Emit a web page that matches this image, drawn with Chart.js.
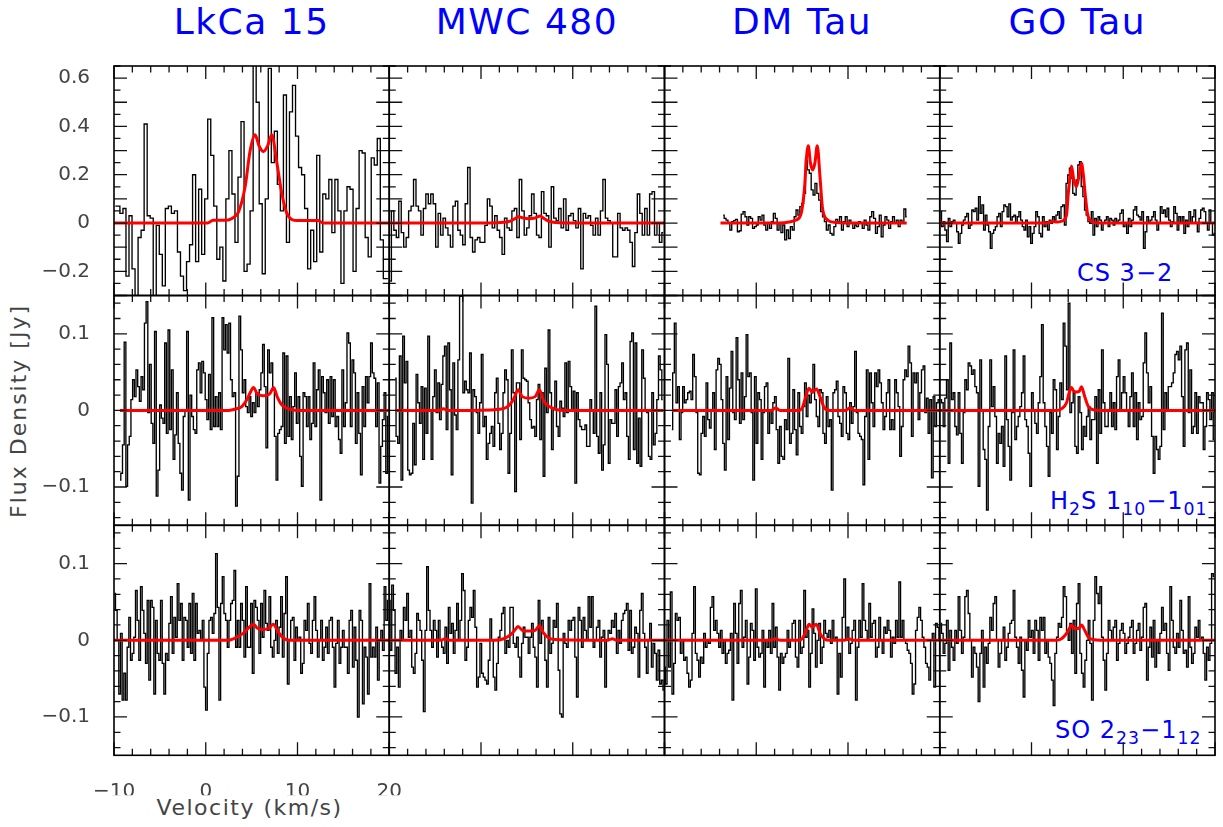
<!DOCTYPE html>
<html>
<head>
<meta charset="utf-8">
<title>CS, H2S and SO spectra</title>
<script src="https://cdn.jsdelivr.net/npm/chart.js@4.4.1/dist/chart.umd.min.js"></script>
<style>
  html, body { margin: 0; padding: 0; background: #fff; }
  #stage { position: relative; width: 1223px; height: 827px; overflow: hidden; font-family: "DejaVu Sans", sans-serif; }
  #stage canvas { position: absolute; left: 0; top: 0; }
  .source { position: absolute; top: 4px; text-align: center; color: #0000ff; font-size: 36px; line-height: 1; letter-spacing: 1.5px; white-space: nowrap; }
  .line-label { position: absolute; color: #0000ff; font-size: 24px; line-height: 1; white-space: nowrap; letter-spacing: 1px; }
  .line-label sub { font-size: 0.72em; vertical-align: -0.35em; line-height: 0; }
  .axis-title { position: absolute; color: #444; font-size: 22px; line-height: 1; white-space: nowrap; text-align: center; }
</style>
</head>
<body>
<div id="stage"></div>
<script>
// sources (columns) and transitions (rows)
const sources = ['LkCa 15', 'MWC 480', 'DM Tau', 'GO Tau'];
const lineLabels = ['CS 3\u22122', 'H<sub>2</sub>S 1<sub>10</sub>\u22121<sub>01</sub>', 'SO 2<sub>23</sub>\u22121<sub>12</sub>'];
const velocityRange = [-10, 20];
const fluxRanges = [[-0.3, 0.65], [-0.15, 0.15], [-0.15, 0.15]];
const xTickValues = [-10, 0, 10, 20];
const yTickValues = [[-0.2, 0, 0.2, 0.4, 0.6], [-0.1, 0, 0.1], [-0.1, 0, 0.1]];

// ---- CS 3-2 spectra (Jy) ----
const csLkcaVel = [-9.85, 19.85];
const csLkca = [0.07,0.07,0.04,0.06,-0.22,0.03,-0.19,-0.35,-0.06,-0.03,0.41,0.03,0.02,-0.35,-0.01,-0.13,-0.26,0.06,0.07,0.04,
  0.05,-0.12,-0.22,-0.28,-0.16,-0.09,0.2,-0.16,0.14,-0.13,0.1,0.43,0.28,0.07,-0.15,-0.1,-0.24,0.1,0.3,0.12,
  -0.08,0.19,0.42,-0.2,-0.17,0.05,0.7,0.5,0.08,-0.21,0.1,0.64,0.25,0.38,0.16,0.05,0.53,-0.08,0.46,0.57,
  0.36,0.23,0.2,0.06,-0.19,-0.03,-0.16,0.28,-0.12,0.12,0.1,0.18,-0.04,0.18,0.05,-0.25,0.05,0.15,0.14,-0.2,
  0.06,0.3,0.29,-0.06,-0.14,0.27,0.24,0.35,-0.07,-0.23,-0.23];
const csMwcVel = [-9.9, 19.85];
const csMwc = [-0.24,0.05,-0.03,-0.06,0.09,-0.04,-0.1,-0.06,0.05,0.07,0.18,0.07,0.05,-0.05,0.06,0.12,0.08,0.12,0.08,-0.1,
  0.04,-0.05,0.02,-0.02,-0.05,-0.1,0.07,0.09,-0.03,-0.05,-0.09,0.08,0.23,-0.06,-0.12,-0.07,-0.06,-0.08,-0.08,-0.01,
  0.1,0.07,-0.02,0.03,-0.03,-0.06,-0.13,0.02,-0.02,-0.03,0.05,0.06,-0.06,0.18,0.05,-0.05,-0.02,0.03,0.12,0.04,
  -0.05,-0.06,0.13,0.04,0.03,-0.1,0.15,0.02,0.01,0.06,-0.02,0.1,-0.03,0.03,0.04,0.01,-0.02,0.06,-0.19,0.04,
  0.02,0.03,-0.01,-0.05,0.02,-0.05,0.05,0.18,0.02,0.01,0.0,-0.14,-0.14,0.04,-0.02,-0.03,-0.02,-0.03,-0.08,-0.18,
  -0.04,0.12,0.04,-0.05,0.06,-0.05,0.12,0.13,-0.05,0.0,-0.08,-0.04];
const csDmVel = [-3.6, 16.4];
const csDm = [0.033,0.019,0.012,-0.001,-0.029,0.006,0.01,0.015,-0.036,-0.032,0.037,0.047,0.026,-0.008,0.026,0.019,-0.022,-0.015,-0.008,0.026,
  0.012,0.033,-0.008,-0.029,-0.001,-0.022,0.006,0.04,0.019,-0.029,-0.001,-0.04,-0.008,-0.07,-0.029,-0.064,-0.015,-0.029,0.026,0.054,
  0.033,0.068,0.081,0.123,0.26,0.22,0.206,0.137,0.116,0.164,0.123,0.095,0.047,0.026,0.006,-0.029,-0.008,-0.043,-0.05,-0.015,
  0.015,0.006,0.026,-0.029,0.006,0.026,-0.015,0.012,-0.001,-0.022,-0.008,-0.015,0.006,-0.001,-0.022,0.012,-0.008,-0.029,0.026,0.047,
  0.019,-0.043,-0.015,0.033,-0.057,-0.008,0.026,0.012,-0.022,0.006,0.026,-0.001,0.012,-0.015,0.012,-0.001,0.058,0.026];
const csGoVel = [-9.9, 20];
const csGo = [0.047,-0.015,0.006,-0.029,-0.077,0.019,-0.015,0.006,0.012,-0.001,-0.036,-0.084,-0.043,-0.008,0.012,0.026,0.04,-0.022,-0.008,0.054,
  0.047,0.061,0.012,0.109,0.04,0.075,-0.029,0.033,-0.008,-0.036,-0.105,-0.043,-0.029,-0.015,0.026,0.04,-0.015,0.047,0.075,0.068,
  0.026,0.079,0.012,0.026,0.033,-0.001,0.026,0.047,0.012,-0.015,-0.029,0.012,-0.057,-0.015,-0.084,-0.043,-0.015,0.047,0.026,-0.043,
  -0.057,0.026,-0.015,0.006,-0.029,0.012,-0.001,0.026,0.012,0.033,0.047,0.019,0.068,0.075,-0.008,0.164,0.199,0.227,0.185,0.123,
  0.116,0.178,0.24,0.254,0.151,0.109,0.054,0.033,0.006,-0.001,0.047,-0.05,0.019,-0.015,0.026,0.012,-0.029,-0.001,0.012,0.026,
  -0.015,0.019,0.012,-0.008,0.019,-0.001,0.012,0.04,0.054,-0.015,-0.001,-0.043,0.019,-0.015,0.012,0.054,0.068,0.033,0.026,0.012,
  0.047,-0.105,-0.036,0.026,-0.001,0.012,0.026,0.047,0.012,-0.029,-0.001,0.068,0.04,0.054,0.026,0.061,0.012,-0.015,0.006,0.068,
  0.04,-0.029,0.026,-0.001,0.026,-0.043,0.012,-0.015,0.047,-0.001,0.026,0.054,-0.001,-0.036,0.019,0.054,0.061,0.047,-0.001,-0.029,
  0.054,-0.001,-0.05,-0.043];

// ---- H2S 1(10)-1(01) spectra (Jy) ----
const h2sLkcaVel = [-9.35, 19.9];
const h2sLkca = [-0.091,-0.082,-0.045,0.089,-0.099,-0.045,-0.034,0.014,0.04,0.018,0.053,0.031,0.012,0.044,0.027,0.114,0.142,-0.003,0.06,-0.017,
  -0.043,0.103,-0.112,-0.078,0.007,-0.01,-0.017,0.088,-0.03,0.105,-0.025,0.053,-0.064,-0.032,0.023,-0.043,-0.082,-0.104,-0.008,0.001,
  0.103,-0.117,0.02,-0.008,-0.025,-0.03,0.053,0.062,0.023,0.064,0.049,0.014,-0.012,0.047,-0.025,0.121,-0.021,0.018,-0.021,0.023,
  -0.025,0.121,0.079,0.112,0.075,0.114,0.04,0.018,0.023,-0.125,-0.086,0.123,0.079,0.023,0.04,0.005,-0.003,0.018,-0.008,0.01,
  -0.003,0.023,0.005,0.027,0.049,0.086,0.031,-0.049,0.079,0.049,0.062,0.027,-0.034,-0.091,-0.03,-0.025,-0.021,0.075,-0.043,0.071,
  -0.034,0.018,-0.038,0.005,0.049,-0.017,0.018,-0.06,-0.099,0.023,0.018,-0.021,0.018,-0.038,-0.017,0.062,-0.021,0.027,0.053,-0.117,
  0.044,0.023,-0.003,0.04,-0.017,0.044,-0.008,0.04,-0.021,-0.008,-0.038,-0.056,0.053,-0.021,0.01,0.101,0.088,-0.021,0.066,0.049,
  -0.043,0.023,-0.03,-0.084,0.031,-0.021,0.044,0.01,0.044,0.088,0.049,0.042,-0.021,0.036,-0.095,-0.047,-0.012,0.023,-0.082,-0.008];
const h2sMwcVel = [-9.35, 19.8];
const h2sMwc = [0.042,-0.034,-0.043,0.071,-0.091,0.097,0.036,0.064,-0.078,-0.084,-0.082,-0.017,-0.071,0.047,0.01,-0.017,0.031,-0.064,0.029,-0.03,
  0.097,-0.001,-0.064,0.018,0.053,-0.003,0.036,-0.012,0.034,0.071,0.084,-0.025,0.088,0.027,-0.084,0.062,-0.006,-0.025,0.066,0.149,
  0.16,0.023,0.038,0.027,0.023,0.075,-0.121,0.027,0.018,-0.003,-0.03,0.01,0.073,-0.021,-0.008,-0.064,-0.043,-0.03,-0.021,-0.047,
  0.023,0.042,-0.017,-0.051,-0.03,0.023,0.053,0.04,-0.082,-0.03,0.079,0.023,-0.106,0.036,0.036,-0.038,0.079,0.042,0.04,0.038,
  0.01,-0.012,-0.023,-0.021,-0.034,0.014,0.034,-0.038,0.023,-0.086,0.055,-0.003,0.105,0.023,-0.051,0.001,0.038,-0.021,-0.034,0.012,
  0.003,-0.008,0.062,-0.003,0.064,0.031,-0.001,0.025,-0.095,0.023,-0.012,-0.021,-0.025,-0.025,-0.019,-0.047,-0.047,0.014,-0.001,-0.03,
  0.136,-0.034,-0.056,0.023,-0.078,-0.045,0.099,0.06,-0.069,-0.012,-0.017,-0.017,0.027,-0.034,0.031,0.036,0.062,0.014,0.023,-0.034,
  -0.064,0.09,0.101,-0.051,0.088,-0.069,-0.01,-0.073,0.079,0.042,0.001,-0.003,-0.06,-0.064,0.023,-0.045,-0.03,0.014,0.071,0.053,0.014];
const h2sDmVel = [-9.2, 20.1];
const h2sDm = [-0.025,0.049,0.114,0.01,0.031,-0.038,-0.003,0.031,0.01,0.014,0.023,0.025,0.014,0.073,0.044,-0.003,-0.082,-0.084,-0.03,-0.008,
  -0.034,0.036,-0.012,-0.023,0.001,0.023,-0.051,0.053,0.068,0.06,0.014,-0.043,-0.078,0.044,-0.038,0.029,0.077,-0.003,-0.012,0.095,
  0.04,-0.017,0.049,-0.012,0.018,0.099,0.044,0.049,-0.003,-0.091,0.044,-0.043,0.023,0.014,-0.064,-0.003,0.031,0.036,-0.03,0.001,
  -0.017,0.01,0.018,-0.025,-0.069,-0.021,-0.06,-0.064,-0.012,-0.025,0.068,-0.043,-0.03,0.027,-0.025,-0.058,0.023,-0.021,-0.03,0.005,
  0.036,-0.008,0.02,0.01,0.023,0.06,0.014,-0.008,-0.021,0.027,0.023,-0.03,-0.043,0.018,-0.021,-0.012,-0.104,0.023,0.027,0.038,
  -0.008,-0.017,-0.034,0.031,0.023,-0.03,-0.038,0.01,-0.017,0.005,0.077,-0.003,-0.03,-0.034,-0.038,-0.097,-0.008,0.053,-0.064,0.049,
  0.01,-0.021,0.049,0.031,0.053,0.036,0.01,-0.025,-0.008,0.023,0.04,-0.025,-0.012,-0.025,0.04,0.023,0.005,-0.06,-0.021,0.04,
  0.053,0.044,0.084,0.062,-0.034,0.049,0.036,0.049,-0.012,0.023,0.053,0.058,-0.003,0.016,-0.03,0.014,-0.088,0.018,-0.021,0.01,0.014,-0.021];
const h2sGoVel = [-9.9, 19.9];
const h2sGo = [0.014,0.01,-0.021,0.016,0.04,-0.069,0.088,0.014,0.023,-0.021,-0.032,0.023,-0.03,-0.069,-0.003,0.04,0.027,0.062,0.058,0.047,
  0.053,0.031,0.023,-0.099,0.066,0.001,-0.051,-0.064,-0.13,-0.021,0.066,0.005,0.031,-0.008,-0.069,-0.03,-0.043,-0.021,-0.073,0.071,
  -0.012,-0.047,-0.091,-0.003,0.079,-0.038,-0.021,-0.008,0.005,0.023,0.071,-0.012,-0.021,-0.056,-0.099,0.023,0.001,-0.017,-0.03,0.01,
  0.044,0.112,0.01,-0.021,-0.047,-0.086,-0.003,-0.03,0.04,0.027,-0.051,-0.008,0.036,0.014,0.114,0.084,0.027,0.14,-0.003,0.01,
  0.023,-0.047,-0.056,0.018,-0.003,-0.051,-0.021,-0.034,-0.008,0.005,-0.038,-0.012,-0.012,0.018,-0.069,0.027,-0.03,0.079,0.01,-0.021,
  -0.021,0.001,0.023,-0.021,0.01,-0.025,0.044,0.066,0.001,0.023,0.044,0.023,0.001,-0.021,0.018,0.049,-0.021,0.023,-0.038,0.01,
  -0.012,-0.008,0.062,0.101,0.049,0.01,0.031,-0.034,-0.082,-0.034,-0.051,-0.064,-0.047,0.127,-0.025,0.023,0.001,0.031,0.031,0.036,
  0.049,0.073,0.077,0.066,0.084,0.018,-0.047,0.079,0.088,-0.003,0.053,-0.03,-0.021,0.023,-0.03,0.018,0.01,0.01,-0.051,-0.021,
  0.023,0.014,-0.012,0.023,-0.038];

// ---- SO 2(23)-1(12) spectra (Jy) ----
const soLkcaVel = [-9.93, 19.9];
const soLkca = [0.061,0.039,0,-0.07,0.009,-0.078,-0.043,-0.078,-0.009,0.03,-0.026,-0.017,0.004,0.065,0.026,-0.026,0.07,0.039,0.009,-0.03,
  0.052,-0.052,0.052,0.043,-0.07,0.026,-0.017,-0.026,0.052,-0.03,-0.07,-0.017,-0.026,0.022,0.057,-0.017,0.03,0.004,0.074,0.026,
  0.048,-0.026,0.03,0.026,-0.009,0.048,-0.017,0.061,-0.026,0.048,0.009,0.013,0,0.026,-0.061,-0.091,-0.017,0.026,0.03,0.009,
  0.035,0.113,0.043,-0.078,0.048,0.083,0.035,0.026,-0.009,0.026,0.048,0.052,0.091,-0.009,0.026,-0.009,0.048,0.026,-0.022,0.07,
  -0.009,-0.009,0.048,-0.043,0.052,0.043,0.026,-0.017,0.048,0.004,0.065,0.022,0.013,0.057,-0.009,-0.022,0,0.026,-0.017,0.017,
  0.057,-0.022,0.035,0.083,-0.057,0,0.026,0.03,-0.026,0.017,0,0.004,-0.043,-0.03,0.026,0.013,0.048,-0.004,-0.017,0.026,
  0.057,0.013,-0.022,0,0.026,-0.026,-0.009,0.017,-0.017,0.026,0.03,-0.009,-0.061,-0.004,0.026,-0.03,-0.009,0.013,-0.009,-0.009,
  -0.043,0.026,0.039,-0.035,0.017,-0.026,-0.1,0.039,0.026,-0.083,-0.009,-0.022,-0.07,0.074,-0.022,-0.009,-0.022,0.017,-0.052,0,
  0.013,-0.013,0.07,0.026,0.052];
const soMwcVel = [-10, 19.93];
const soMwc = [0.052,-0.013,0.072,0.039,-0.043,-0.009,-0.061,0.013,0,0.043,0.026,0.061,0.004,0.013,-0.035,-0.043,-0.017,0.035,0.026,0.013,
  -0.026,-0.093,0.013,0.096,0.039,0.013,-0.009,0.026,0.013,-0.022,0.026,0,-0.009,-0.017,0.017,-0.03,0.043,0.009,0.022,-0.017,
  0.013,0.048,0,0.026,0.087,0.065,-0.026,-0.009,0.026,0.043,0.03,0.065,0.017,-0.061,-0.048,-0.004,-0.043,-0.048,-0.052,-0.057,
  -0.026,0.028,0,-0.048,-0.065,-0.03,0.004,0.013,0.035,0.043,-0.017,0,-0.009,0.043,0.043,-0.004,-0.009,0.004,-0.022,-0.048,
  -0.004,0.017,0.004,0.004,-0.017,0.004,0.022,-0.009,-0.022,-0.061,0.052,-0.004,0.026,0.009,-0.026,-0.061,0.03,-0.017,-0.004,0.026,
  0.017,0.048,-0.039,-0.096,-0.1,0.009,-0.004,-0.009,0.026,0.013,0.026,0.03,-0.022,-0.074,0.043,0.026,-0.009,0.03,0.013,0,
  0.057,0.017,0.057,-0.009,0,0.017,0.026,-0.022,0.004,0.013,-0.061,0,0.013,0.009,0.026,0.017,0.035,-0.017,0.013,-0.004,
  0.026,0.035,0.039,0.048,-0.013,0.039,-0.017,-0.009,0.017,0.009,-0.048,0.039,0.061,0.009,-0.009,-0.043,0,0.022,-0.035,-0.004,
  -0.017,-0.052,-0.013,-0.057,-0.052,-0.065];
const soDmVel = [-10, 20];
const soDm = [-0.035,-0.057,0.026,-0.035,0.063,-0.07,-0.03,0.035,0.026,0.03,-0.017,0,-0.026,-0.022,-0.043,-0.061,-0.052,0.009,0.07,-0.017,
  -0.026,-0.048,-0.022,-0.03,0.009,-0.009,0,-0.004,0.043,0.057,0.013,0.026,0.009,-0.009,0.013,-0.017,0,-0.03,-0.017,-0.013,
  0.009,-0.078,0.048,0.009,-0.03,0.048,0.065,-0.009,0.004,0.026,-0.057,-0.022,0.022,0.013,-0.026,0.067,-0.009,-0.022,-0.017,0.013,
  -0.061,0,-0.009,0.013,-0.017,0.048,-0.009,0.017,-0.022,-0.065,-0.017,-0.03,-0.022,-0.017,0.013,-0.009,0,0.022,0.026,-0.022,
  -0.035,0.026,-0.017,-0.009,0.065,0.004,0.013,-0.061,-0.017,0.041,0.009,-0.035,0,0.022,-0.03,-0.009,0.026,0.009,0.004,0.013,
  -0.004,0.026,0,0.004,-0.07,-0.017,-0.048,0.03,0.08,0,0.017,-0.017,-0.004,0.013,0.026,-0.078,-0.009,0.026,0.004,0.074,
  0.026,0.013,0,0.048,0.004,0.022,0.026,-0.022,-0.009,0.03,0,-0.017,0.017,0.009,0.026,0.013,-0.022,0.004,-0.004,0.026,
  0.004,0.076,0.004,0.026,0,-0.004,-0.013,-0.017,-0.03,-0.07,-0.057,0.013,0.03,0.043,0.026,0.004,-0.009,-0.03,-0.035,-0.052,
  0,0.009,-0.061,0.022,0.017,0];
const soGoVel = [-9.9, 19.9];
const soGo = [0.022,0.009,-0.017,-0.004,0.026,-0.039,0.013,-0.009,-0.026,0.013,-0.004,0.057,0.013,-0.017,0.004,0.057,0.065,0.035,0,-0.048,
  -0.009,-0.017,-0.035,-0.08,-0.017,0.013,-0.061,-0.009,-0.03,-0.004,0.03,0.013,0.048,0.057,0,-0.035,-0.017,0,0.017,-0.026,
  -0.009,0.009,0.022,0.026,0.065,0.004,-0.009,-0.03,0.004,-0.039,-0.074,0,-0.013,0.026,0.004,0.013,-0.017,0.026,0.013,-0.026,
  0.03,0.013,0.03,-0.017,0,-0.022,-0.03,-0.052,-0.085,-0.017,0.004,0.022,0.017,0.03,0.07,0.057,0.013,0,0.022,-0.017,
  0.026,-0.043,0.048,0.074,-0.017,-0.043,-0.061,-0.026,0,0.026,-0.004,-0.078,0.026,0.083,0.061,0.048,0.07,0.004,-0.026,-0.065,
  -0.017,0.026,0.013,0,0.017,0.026,-0.026,-0.004,0.013,0.022,0.009,-0.017,-0.004,0.004,0.017,0.026,-0.017,-0.004,0.013,0.022,
  -0.013,0.004,0.043,0.048,-0.052,-0.009,0.017,-0.022,0.026,-0.035,0,-0.017,0.009,0.043,0.013,0.022,-0.017,-0.039,0.07,0.026,
  -0.009,-0.017,0.009,-0.009,0.052,0.013,-0.017,-0.013,-0.035,0.057,-0.009,-0.03,-0.017,0.017,0.004,0.026,0,0.004,-0.017,-0.052,
  -0.009,-0.026,-0.004,0.087,0.083];

// ---- model profiles (velocity km/s, flux Jy) ----
const csLkcaModelV = [-10, 0.2, 0.8, 2.2, 2.9, 3.56, 4.29, 4.84, 5.38, 5.8, 6.29, 6.75, 7.2, 7.75, 8.3, 8.84, 9.38, 10.0, 12.2, 12.8, 20];
const csLkcaModelF = [0, 0, 0.012, 0.012, 0.02, 0.045, 0.15, 0.3, 0.365, 0.32, 0.296, 0.32, 0.365, 0.25, 0.12, 0.04, 0.015, 0.01, 0.01, 0, 0];
const csMwcModelV = [-10, 1, 2.5, 3.2, 3.7, 4.05, 4.6, 5.2, 5.9, 6.45, 6.9, 7.4, 8.2, 10, 20];
const csMwcModelF = [0, 0, 0.003, 0.008, 0.018, 0.026, 0.021, 0.018, 0.021, 0.029, 0.018, 0.007, 0.002, 0, 0];
const csDmModelV = [-3.9, 2.5, 3.6, 4.3, 4.84, 5.27, 5.45, 5.67, 5.9, 6.15, 6.4, 6.65, 6.95, 7.2, 7.56, 8.5, 10, 16.4];
const csDmModelF = [0, 0, 0.004, 0.012, 0.033, 0.15, 0.26, 0.32, 0.25, 0.22, 0.25, 0.32, 0.19, 0.068, 0.02, 0.003, 0, 0];
const csGoModelV = [-10, 1.8, 2.3, 2.8, 3.3, 3.82, 4.0, 4.2, 4.36, 4.6, 4.91, 5.2, 5.45, 5.65, 5.85, 6.1, 6.6, 7.5, 20];
const csGoModelF = [0, 0, 0.007, 0.004, 0.008, 0.033, 0.12, 0.19, 0.236, 0.18, 0.151, 0.2, 0.247, 0.2, 0.12, 0.04, 0.006, 0, 0];

const h2sLkcaModelV = [-9.35, 2.5, 3.3, 3.93, 4.47, 4.84, 5.2, 5.6, 6.3, 7.0, 7.4, 7.78, 8.3, 9.05, 10, 19.9];
const h2sLkcaModelF = [0, 0, 0.002, 0.005, 0.014, 0.023, 0.03, 0.022, 0.019, 0.022, 0.03, 0.018, 0.007, 0.002, 0, 0];
const h2sMwcModelV = [-9.35, -4.6, -4.1, -3.6, 1.5, 3.0, 3.56, 4.04, 4.5, 5.2, 5.9, 6.36, 6.84, 7.75, 9, 19.85];
const h2sMwcModelF = [0, 0, 0.002, 0, 0.001, 0.006, 0.015, 0.027, 0.018, 0.016, 0.018, 0.027, 0.012, 0.003, 0, 0];
const h2sDmModelV = [-9.2, 1.6, 2.1, 2.6, 4.6, 5.0, 5.4, 5.75, 6.1, 6.58, 6.95, 7.4, 8, 9.7, 10.2, 10.7, 20];
const h2sDmModelF = [0, 0, 0.003, 0, 0, 0.003, 0.018, 0.029, 0.024, 0.028, 0.018, 0.004, 0, 0, 0.003, 0, 0];
const h2sGoModelV = [-10, 2.7, 3.27, 3.82, 4.1, 4.36, 4.6, 4.91, 5.2, 5.45, 5.8, 6.2, 6.7, 7.5, 20];
const h2sGoModelF = [0, 0, 0.002, 0.01, 0.023, 0.03, 0.025, 0.024, 0.025, 0.031, 0.018, 0.005, 0.001, 0, 0];

const soLkcaModelV = [-10, 2.5, 3.0, 4.07, 4.73, 5.24, 5.6, 6.25, 6.9, 7.35, 7.9, 8.44, 9.2, 20];
const soLkcaModelF = [0, 0, 0.002, 0.009, 0.017, 0.021, 0.016, 0.014, 0.016, 0.021, 0.011, 0.003, 0, 0];
const soMwcModelV = [-10, -4.4, -3.9, -3.4, 1.5, 2.47, 3.2, 3.67, 4.04, 4.5, 5.2, 5.9, 6.36, 6.84, 7.4, 8.1, 13.8, 14.3, 14.8, 20];
const soMwcModelF = [0, 0, 0.002, 0, 0, 0.002, 0.007, 0.013, 0.018, 0.013, 0.012, 0.013, 0.019, 0.009, 0.003, 0.001, 0, 0.002, 0, 0];
const soDmModelV = [-10, 1.6, 2.1, 2.6, 4.6, 5.0, 5.45, 5.75, 6.1, 6.55, 6.95, 7.4, 8, 9.6, 10.1, 10.6, 20];
const soDmModelF = [0, 0, 0.002, 0, 0, 0.002, 0.013, 0.021, 0.017, 0.021, 0.009, 0.002, 0, 0, 0.002, 0, 0];
const soGoModelV = [-10, 2.7, 3.27, 3.82, 4.1, 4.36, 4.6, 4.91, 5.2, 5.45, 5.8, 6.2, 6.7, 7.5, 20];
const soGoModelF = [0, 0, 0.002, 0.009, 0.015, 0.02, 0.016, 0.015, 0.016, 0.02, 0.013, 0.004, 0.001, 0, 0];

// rows = transitions, columns = sources
const spectra = [[csLkca, csMwc, csDm, csGo], [h2sLkca, h2sMwc, h2sDm, h2sGo], [soLkca, soMwc, soDm, soGo]];
const spectraVel = [[csLkcaVel, csMwcVel, csDmVel, csGoVel], [h2sLkcaVel, h2sMwcVel, h2sDmVel, h2sGoVel], [soLkcaVel, soMwcVel, soDmVel, soGoVel]];
const modelV = [[csLkcaModelV, csMwcModelV, csDmModelV, csGoModelV], [h2sLkcaModelV, h2sMwcModelV, h2sDmModelV, h2sGoModelV], [soLkcaModelV, soMwcModelV, soDmModelV, soGoModelV]];
const modelF = [[csLkcaModelF, csMwcModelF, csDmModelF, csGoModelF], [h2sLkcaModelF, h2sMwcModelF, h2sDmModelF, h2sGoModelF], [soLkcaModelF, soMwcModelF, soDmModelF, soGoModelF]];

// ---- layout ----
const W = 1223, H = 827;
const colEdges = [114, 389.25, 664.5, 939.75, 1215];
const rowEdges = [66, 295.5, 525.3, 755.3];
const yAxisWidth = 104, xAxisHeight = 40;
const yMinorStep = [0.05, 0.02, 0.02];
const tickFont = { family: 'DejaVu Sans', size: 20 };
const greyText = '#444';
const stage = document.getElementById('stage');

function fmt(v) {
    if (Math.abs(v) < 1e-9) return '0';
    return (v < 0 ? '\u2212' : '') + String(Math.abs(v));
}

function channelPoints(vals, span) {
    const step = (span[1] - span[0]) / (vals.length - 1);
    return vals.map((f, i) => ({ x: span[0] + i * step, y: f }));
}

function zipPoints(vs, fs) {
    return vs.map((v, i) => ({ x: v, y: fs[i] }));
}

// frame + inward ticks on all four sides
const frameTicks = {
    id: 'frameTicks',
    afterDatasetsDraw(chart, args, opts) {
        const { ctx, chartArea: a } = chart;
        const x = chart.scales.x, y = chart.scales.y;
        ctx.save();
        ctx.strokeStyle = '#111';
        ctx.lineWidth = 1.3;
        ctx.beginPath();
        const marks = (min, max, step, major, fn) => {
            const k0 = Math.ceil(min / step - 1e-6), k1 = Math.floor(max / step + 1e-6);
            for (let k = k0; k <= k1; k++) {
                const v = k * step;
                const r = v / major;
                fn(v, Math.abs(r - Math.round(r)) < 1e-6 ? 13 : 6.5);
            }
        };
        marks(x.min, x.max, opts.xMinor, opts.xMajor, (v, len) => {
            const px = x.getPixelForValue(v);
            ctx.moveTo(px, a.bottom); ctx.lineTo(px, a.bottom - len);
            ctx.moveTo(px, a.top); ctx.lineTo(px, a.top + len);
        });
        marks(y.min, y.max, opts.yMinor, opts.yMajor, (v, len) => {
            const py = y.getPixelForValue(v);
            ctx.moveTo(a.left, py); ctx.lineTo(a.left + len, py);
            ctx.moveTo(a.right, py); ctx.lineTo(a.right - len, py);
        });
        ctx.stroke();
        ctx.lineWidth = 1.6;
        ctx.strokeStyle = '#000';
        ctx.strokeRect(a.left, a.top, a.right - a.left, a.bottom - a.top);
        ctx.restore();
    }
};

// titles and labels
sources.forEach((name, c) => {
    const d = document.createElement('div');
    d.className = 'source';
    d.style.left = colEdges[c] + 'px';
    d.style.width = (colEdges[c + 1] - colEdges[c]) + 'px';
    d.textContent = name;
    stage.appendChild(d);
});

const lineLabelPos = [[1077, 260.5], [1050, 489], [1055, 718]];
lineLabels.forEach((html, r) => {
    const d = document.createElement('div');
    d.className = 'line-label';
    d.style.left = lineLabelPos[r][0] + 'px';
    d.style.top = lineLabelPos[r][1] + 'px';
    d.innerHTML = html;
    stage.appendChild(d);
});

const yTitle = document.createElement('div');
yTitle.className = 'axis-title';
yTitle.textContent = 'Flux Density [Jy]';
Object.assign(yTitle.style, { left: '-111px', top: '400px', width: '260px', letterSpacing: '2px', transform: 'rotate(-90deg)' });
stage.appendChild(yTitle);

const xTitle = document.createElement('div');
xTitle.className = 'axis-title';
xTitle.textContent = 'Velocity (km/s)';
Object.assign(xTitle.style, { left: (colEdges[0] - 2) + 'px', top: '797px', width: (colEdges[1] - colEdges[0]) + 'px', letterSpacing: '1.5px' });
stage.appendChild(xTitle);

// one chart per panel, each on a full-size transparent canvas
for (let r = 0; r < 3; r++) {
    for (let c = 0; c < 4; c++) {
        const canvas = document.createElement('canvas');
        canvas.width = W;
        canvas.height = H;
        stage.appendChild(canvas);
        const showY = c === 0;
        const showX = r === 2 && c === 0;

        const xScale = {
            type: 'linear', min: velocityRange[0], max: velocityRange[1], display: showX,
            grid: { display: false }, border: { display: false },
            ticks: { font: tickFont, color: greyText, padding: 16, maxRotation: 0, autoSkip: false, callback: fmt }
        };
        if (showX) {
            xScale.afterBuildTicks = s => { s.ticks = xTickValues.map(v => ({ value: v })); };
            xScale.afterFit = s => { s.height = xAxisHeight; s.paddingLeft = 0; s.paddingRight = 0; };
        }
        const yScale = {
            type: 'linear', min: fluxRanges[r][0], max: fluxRanges[r][1], display: showY,
            grid: { display: false }, border: { display: false },
            ticks: { font: tickFont, color: greyText, padding: 16, autoSkip: false, callback: fmt }
        };
        if (showY) {
            yScale.afterBuildTicks = s => { s.ticks = yTickValues[r].map(v => ({ value: v })); };
            yScale.afterFit = s => { s.width = yAxisWidth; s.paddingTop = 0; s.paddingBottom = 0; };
        }

        new Chart(canvas, {
            type: 'line',
            data: {
                datasets: [{
                    data: zipPoints(modelV[r][c], modelF[r][c]),
                    borderColor: '#ff0000', borderWidth: 3, pointRadius: 0,
                    cubicInterpolationMode: 'monotone', fill: false
                }, {
                    data: channelPoints(spectra[r][c], spectraVel[r][c]),
                    borderColor: '#000', borderWidth: 1.35, pointRadius: 0,
                    stepped: 'middle', fill: false
                }]
            },
            options: {
                responsive: false, animation: false, events: [],
                layout: {
                    padding: {
                        left: colEdges[c] - (showY ? yAxisWidth : 0),
                        right: W - colEdges[c + 1],
                        top: rowEdges[r],
                        bottom: H - rowEdges[r + 1] - (showX ? xAxisHeight : 0)
                    }
                },
                plugins: {
                    legend: { display: false },
                    tooltip: { enabled: false },
                    frameTicks: { xMinor: 2, xMajor: 10, yMinor: yMinorStep[r], yMajor: 0.1 }
                },
                scales: { x: xScale, y: yScale }
            },
            plugins: [frameTicks]
        });
    }
}
</script>
</body>
</html>
